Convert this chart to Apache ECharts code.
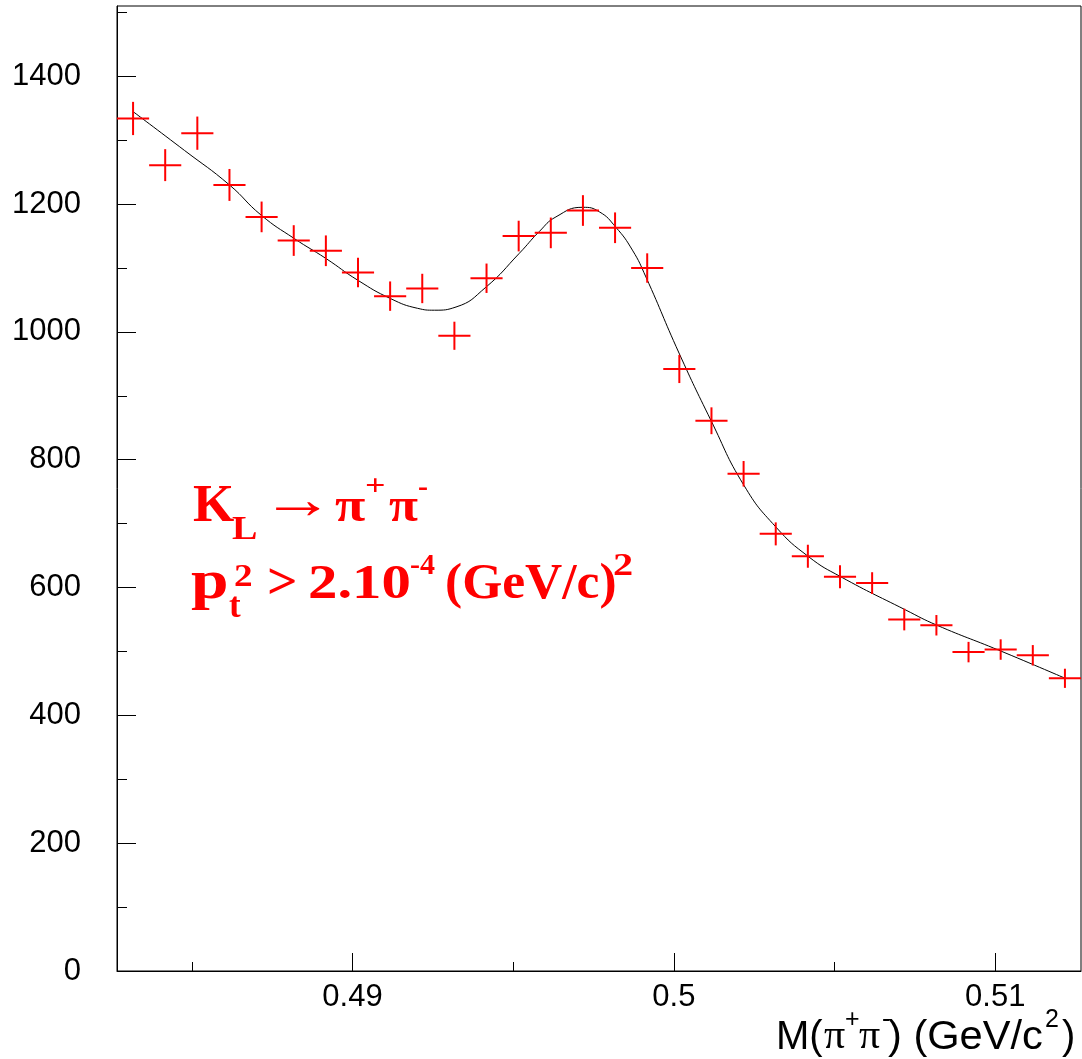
<!DOCTYPE html>
<html>
<head>
<meta charset="utf-8">
<script src="https://cdn.jsdelivr.net/npm/echarts@6/dist/echarts.min.js"></script>
<style>
html,body{margin:0;padding:0;background:#fff;}
#chart{width:1082px;height:1059px;}
</style>
</head>
<body>
<div id="chart"></div>
<script>
// ---- data ----
const binCenters = [0.48317,0.48417,0.48517,0.48617,0.48717,0.48817,0.48917,0.49017,0.49117,0.49217,
                    0.49317,0.49417,0.49517,0.49617,0.49717,0.49817,0.49917,0.50017,0.50117,0.50217,
                    0.50317,0.50417,0.50517,0.50617,0.50717,0.50817,0.50917,0.51017,0.51117,0.51217];
const counts = [1334,1261,1311,1230,1180,1143,1127,1093,1056,1068,
                994,1084,1150,1155,1190,1163,1100,942,861,778,
                684,649,617,607,550,541,499,503,494,458];
const errors = [26,25,26,25,24,24,24,23,23,23,
                22,23,24,24,24,24,23,22,21,20,
                18,18,18,17,17,16,16,16,16,15];
const binWidth = 0.001;

const fitX = [0.48319,0.48477,0.48617,0.48715,0.48819,0.48917,0.49016,0.49119,0.49202,0.49255,
              0.49322,0.49415,0.49519,0.49581,0.49633,0.49716,0.49768,0.49819,0.49871,0.49913,
              0.50016,0.50115,0.50218,0.50317,0.50420,0.50519,0.50721,0.50819,0.51011,0.51218];
const fitY = [1344,1284,1230,1183,1146,1115,1081,1052,1037,1034,
              1039,1070,1123,1157,1180,1195,1188,1164,1128,1086,
              967,862,760,695,648,617,565,541,502,458];

const xMajorTicks = [0.49, 0.5, 0.51];
const xMinorTicks = [0.485, 0.495, 0.505];
const yMajorTicks = [0, 200, 400, 600, 800, 1000, 1200, 1400];
const yMinorTicks = [100, 300, 500, 700, 900, 1100, 1300, 1500];

const xRange = [0.48267, 0.51267];
const yRange = [0, 1510];

// ---- build ----
const chart = echarts.init(document.getElementById('chart'), null, {renderer: 'canvas'});
const pts = binCenters.map((x, i) => [x, counts[i], errors[i]]);
const fit = fitX.map((x, i) => [x, fitY[i]]);

const SANS = '"Liberation Sans", Arial, sans-serif';
const SERIF = '"Liberation Serif", "Times New Roman", serif';

function piece(text, x, baseline, size, sx, opts) {
  opts = opts || {};
  return {
    type: 'text', x: x, y: baseline - 0.305 * size, scaleX: sx || 1, silent: true,
    style: {
      text: text,
      fill: opts.color || '#ff0000',
      font: (opts.weight || 'bold') + ' ' + size + 'px ' + (opts.family || SERIF),
      align: 'left', verticalAlign: 'middle'
    }
  };
}

const blackSans = {color: '#000', weight: 'normal', family: SANS};
const blackSerif = {color: '#000', weight: 'normal', family: SERIF};

const graphics = [
  // K_L -> pi+ pi-
  piece('K', 193, 523.3, 53, 1.0),
  piece('L', 232, 540.7, 34, 1.12),
  piece('\u2192', 261, 520, 56, 1.3, {weight: 'normal'}),
  piece('\u03C0', 335, 523.3, 48, 1.15),
  piece('+', 365, 496.7, 30, 1.2),
  piece('\u03C0', 389, 523.3, 48, 1.1),
  piece('-', 418, 497, 30, 1.0),
  // pt^2 > 2.10^-4 (GeV/c)^2
  piece('p', 191, 600.7, 54, 1.25),
  piece('t', 229, 618.3, 35, 1.0),
  piece('2', 234, 587.7, 31, 1.2),
  piece('>', 267, 600.7, 50, 1.07),
  piece('2.10', 308, 600.7, 49, 1.2),
  piece('-4', 410, 575, 30, 1.0),
  piece('(GeV/c)', 445, 600.7, 50, 1.03),
  piece('2', 613, 576, 31, 1.3),
  // x-axis title M(pi+pi-) (GeV/c^2)
  piece('M(', 776, 1050, 40, 1.0, blackSans),
  piece('\u03C0', 824, 1050, 40, 1.05, blackSerif),
  piece('+', 845, 1028, 25, 1.0, blackSans),
  piece('\u03C0', 859, 1050, 40, 1.05, blackSerif),
  piece('-', 882, 1028, 25, 1.0, blackSans),
  piece(') (GeV/c', 888, 1050, 40, 1.04, blackSans),
  piece('2', 1045, 1028, 25, 1.0, blackSans),
  piece(')', 1062, 1050, 40, 1.0, blackSans)
];

const option = {
  animation: false,
  backgroundColor: '#ffffff',
  grid: {left: 117, top: 6, width: 964, height: 965, show: true, borderColor: '#000', borderWidth: 1, backgroundColor: 'transparent'},
  xAxis: [
    {
      type: 'value', min: xRange[0], max: xRange[1], position: 'bottom',
      axisLine: {show: true, onZero: false, lineStyle: {color: '#000', width: 1}},
      axisTick: {show: true, inside: true, length: 18, lineStyle: {color: '#000', width: 1}, customValues: xMajorTicks},
      axisLabel: {show: true, margin: 11, color: '#000', fontFamily: SANS, fontSize: 31, customValues: xMajorTicks,
                  formatter: v => String(+(+v).toFixed(3))},
      splitLine: {show: false}
    },
    {
      type: 'value', min: xRange[0], max: xRange[1], position: 'bottom',
      axisLine: {show: false},
      axisTick: {show: true, inside: true, length: 9, lineStyle: {color: '#000', width: 1}, customValues: xMinorTicks},
      axisLabel: {show: false},
      splitLine: {show: false}
    }
  ],
  yAxis: [
    {
      type: 'value', min: yRange[0], max: yRange[1], position: 'left',
      axisLine: {show: true, onZero: false, lineStyle: {color: '#000', width: 1}},
      axisTick: {show: true, inside: true, length: 19, lineStyle: {color: '#000', width: 1}, customValues: yMajorTicks},
      axisLabel: {show: true, margin: 36, color: '#000', fontFamily: SANS, fontSize: 31, customValues: yMajorTicks,
                  formatter: v => String(Math.round(v))},
      splitLine: {show: false}
    },
    {
      type: 'value', min: yRange[0], max: yRange[1], position: 'left',
      axisLine: {show: false},
      axisTick: {show: true, inside: true, length: 10, lineStyle: {color: '#000', width: 1}, customValues: yMinorTicks},
      axisLabel: {show: false},
      splitLine: {show: false}
    }
  ],
  series: [
    {
      type: 'line', data: fit, xAxisIndex: 0, yAxisIndex: 0,
      smooth: true, showSymbol: false, symbol: 'none',
      lineStyle: {color: '#000', width: 1}, z: 2
    },
    {
      type: 'custom', data: pts, xAxisIndex: 0, yAxisIndex: 0, z: 3,
      encode: {x: 0, y: 1},
      renderItem: function (params, api) {
        const x = api.value(0), y = api.value(1), e = api.value(2);
        const l = api.coord([x - binWidth / 2, y]);
        const r = api.coord([x + binWidth / 2, y]);
        const t = api.coord([x, y + e]);
        const b = api.coord([x, y - e]);
        const st = {stroke: '#ff0000', lineWidth: 2};
        return {
          type: 'group',
          children: [
            {type: 'line', shape: {x1: l[0], y1: l[1], x2: r[0], y2: r[1]}, style: st},
            {type: 'line', shape: {x1: t[0], y1: t[1], x2: b[0], y2: b[1]}, style: st}
          ]
        };
      }
    }
  ],
  graphic: graphics
};
chart.setOption(option);
</script>
</body>
</html>
